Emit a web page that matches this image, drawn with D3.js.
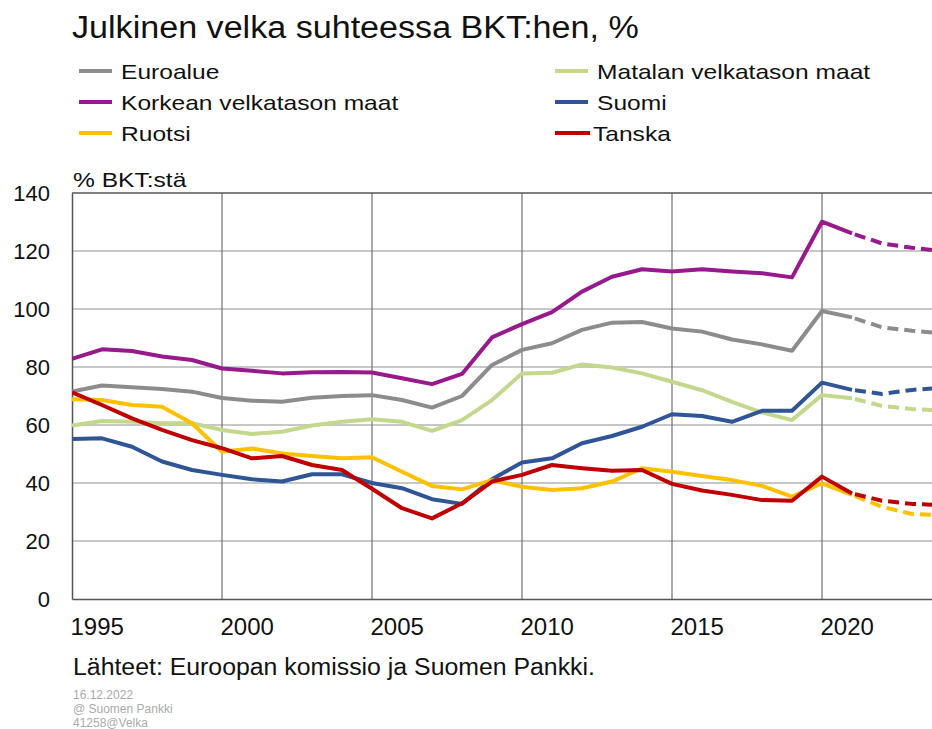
<!DOCTYPE html>
<html>
<head>
<meta charset="utf-8">
<script src="https://d3js.org/d3.v7.min.js"></script>
<style>
  html, body { margin: 0; padding: 0; background: #fff; }
  svg { display: block; font-family: "Liberation Sans", Arial, sans-serif; }
</style>
</head>
<body>
<svg id="chart" width="932" height="729"></svg>
<script>
// years 1995..2024, forecast from 2021 on
const years = d3.range(1995, 2025);
const forecastFrom = 2021;

const euroalue = [71.5, 73.6, 73.0, 72.4, 71.5, 69.3, 68.4, 68.0, 69.4, 70.0, 70.3, 68.6, 66.0, 70.0, 80.7, 85.9, 88.2, 92.8, 95.3, 95.5, 93.3, 92.2, 89.5, 87.8, 85.6, 99.3, 97.1, 93.7, 92.5, 91.6];
const korkea = [82.8, 86.1, 85.5, 83.6, 82.4, 79.5, 78.7, 77.8, 78.2, 78.3, 78.1, 76.1, 74.1, 77.6, 90.2, 94.8, 98.9, 106.0, 111.1, 113.7, 112.9, 113.7, 112.9, 112.3, 110.9, 130.1, 126.1, 122.6, 121.1, 120.0];
const matala = [59.8, 61.4, 61.1, 60.6, 60.6, 58.3, 56.9, 57.7, 59.8, 61.1, 62.0, 61.1, 58.0, 61.7, 68.6, 77.8, 78.0, 80.9, 79.8, 77.8, 74.9, 72.0, 68.0, 64.3, 61.7, 70.3, 69.2, 66.6, 65.5, 65.0];
const suomi = [55.2, 55.4, 52.5, 47.4, 44.5, 42.8, 41.3, 40.5, 43.0, 43.0, 40.0, 38.2, 34.4, 32.8, 41.3, 47.1, 48.5, 53.7, 56.2, 59.4, 63.7, 63.1, 61.1, 64.9, 64.9, 74.6, 72.1, 70.7, 72.1, 72.8];
const ruotsi = [68.9, 68.6, 66.9, 66.3, 60.6, 50.8, 51.9, 50.2, 49.3, 48.5, 48.9, 43.9, 39.0, 37.8, 41.0, 38.7, 37.6, 38.2, 40.5, 45.1, 43.9, 42.4, 41.0, 39.0, 35.3, 39.9, 35.9, 31.8, 29.3, 28.9];
const tanska = [71.3, 66.9, 62.3, 58.3, 54.8, 52.0, 48.5, 49.3, 46.2, 44.5, 38.0, 31.3, 27.8, 33.0, 40.5, 42.8, 46.2, 45.1, 44.2, 44.5, 39.7, 37.4, 35.9, 34.1, 33.9, 42.2, 36.4, 33.9, 32.8, 32.3];

const seriesNames = ["Euroalue", "Korkean velkatason maat", "Ruotsi", "Matalan velkatason maat", "Suomi", "Tanska"];
const seriesValues = [euroalue, korkea, ruotsi, matala, suomi, tanska];
const seriesColors = ["#8c8c8c", "#97198c", "#ffc000", "#c3d88c", "#2f5597", "#c00000"];
// draw order (back to front)
const drawOrder = [3, 0, 1, 4, 2, 5];

const yTicks = [0, 20, 40, 60, 80, 100, 120, 140];
const xTicks = [1995, 2000, 2005, 2010, 2015, 2020];

const svg = d3.select("#chart");
const plot = { left: 72, right: 932, top: 193, bottom: 599 };

const x = d3.scaleLinear().domain([1995, 1995 + (plot.right - plot.left) / 30]).range([plot.left, plot.right]);
const y = d3.scaleLinear().domain([0, 140]).range([plot.bottom, plot.top]);

// the source picture has its text a little wider than the font
function widen(sel, f) {
  sel.each(function () {
    const w = this.getComputedTextLength();
    d3.select(this).attr("textLength", w * f).attr("lengthAdjust", "spacingAndGlyphs");
  });
}

// title
svg.append("text").attr("x", 72).attr("y", 38)
  .attr("font-size", 31).attr("fill", "#111")
  .text("Julkinen velka suhteessa BKT:hen, %")
  .call(widen, 1.1);

// legend
const legendPos = [[79, 71], [79, 102], [79, 133], [555, 71], [555, 102], [555, 133]];
seriesNames.forEach((name, i) => {
  const [lx, ly] = legendPos[i];
  const g = svg.append("g");
  g.append("line").attr("x1", lx).attr("x2", i === 5 ? lx + 35 : lx + 33)
    .attr("y1", ly).attr("y2", ly)
    .attr("stroke", seriesColors[i]).attr("stroke-width", 4);
  g.append("text").attr("x", i === 5 ? lx + 38 : lx + 42).attr("y", ly + 8)
    .attr("font-size", 21).attr("fill", "#111").text(name)
    .call(widen, 1.17);
});

// unit label
svg.append("text").attr("x", 73).attr("y", 187)
  .attr("font-size", 21).attr("fill", "#111").text("% BKT:stä")
  .call(widen, 1.17);

// horizontal gridlines
svg.append("g").selectAll("line").data(yTicks.filter(d => d > 0 && d < 140)).join("line")
  .attr("x1", plot.left).attr("x2", plot.right)
  .attr("y1", d => y(d)).attr("y2", d => y(d))
  .attr("stroke", "#8f8f8f").attr("stroke-width", 1);

// vertical gridlines
svg.append("g").selectAll("line").data(xTicks.filter(d => d > 1995)).join("line")
  .attr("x1", d => x(d)).attr("x2", d => x(d))
  .attr("y1", plot.top).attr("y2", plot.bottom)
  .attr("stroke", "#707070").attr("stroke-width", 1.2);

// frame
svg.append("line").attr("x1", plot.left).attr("x2", plot.right).attr("y1", plot.top).attr("y2", plot.top)
  .attr("stroke", "#555").attr("stroke-width", 1.5);

// y axis
const yAxis = svg.append("g").attr("transform", `translate(${plot.left},0)`)
  .call(d3.axisLeft(y).tickValues(yTicks).tickSize(0).tickPadding(22));
yAxis.select(".domain").attr("stroke", "#555").attr("stroke-width", 1.5);
yAxis.selectAll("text").attr("font-size", 22).attr("fill", "#111")
  .attr("font-family", "Liberation Sans, Arial, sans-serif");

// x axis
const xAxis = svg.append("g").attr("transform", `translate(0,${plot.bottom})`)
  .call(d3.axisBottom(x).tickValues(xTicks).tickFormat(d3.format("d")).tickSize(0).tickPadding(19));
xAxis.select(".domain").attr("stroke", "#555").attr("stroke-width", 1.5);
xAxis.selectAll("text").attr("font-size", 24).attr("fill", "#111")
  .attr("text-anchor", "start").attr("x", -2)
  .attr("font-family", "Liberation Sans, Arial, sans-serif");

// clip
svg.append("clipPath").attr("id", "plotclip").append("rect")
  .attr("x", plot.left).attr("y", plot.top - 10).attr("width", plot.right - plot.left).attr("height", plot.bottom - plot.top + 10);

const line = d3.line().x(d => x(d[0])).y(d => y(d[1]));
const lines = svg.append("g").attr("clip-path", "url(#plotclip)");

drawOrder.forEach(i => {
  const pts = years.map((yr, j) => [yr, seriesValues[i][j]]);
  const solid = pts.filter(p => p[0] <= forecastFrom);
  const dashed = pts.filter(p => p[0] >= forecastFrom);
  lines.append("path").datum(solid).attr("d", line)
    .attr("fill", "none").attr("stroke", seriesColors[i]).attr("stroke-width", 4)
    .attr("stroke-linejoin", "round");
  lines.append("path").datum(dashed).attr("d", line)
    .attr("fill", "none").attr("stroke", seriesColors[i]).attr("stroke-width", 4)
    .attr("stroke-dasharray", "11,6").attr("stroke-dashoffset", -3)
    .attr("stroke-linejoin", "round");
});

// source
svg.append("text").attr("x", 73).attr("y", 675)
  .attr("font-size", 23).attr("fill", "#111")
  .text("Lähteet: Euroopan komissio ja Suomen Pankki.")
  .call(widen, 1.08);

const footer = ["16.12.2022", "@ Suomen Pankki", "41258@Velka"];
svg.append("g").selectAll("text").data(footer).join("text")
  .attr("x", 73).attr("y", (d, i) => 699 + i * 14)
  .attr("font-size", 12).attr("fill", "#aaa").text(d => d);
</script>
</body>
</html>
